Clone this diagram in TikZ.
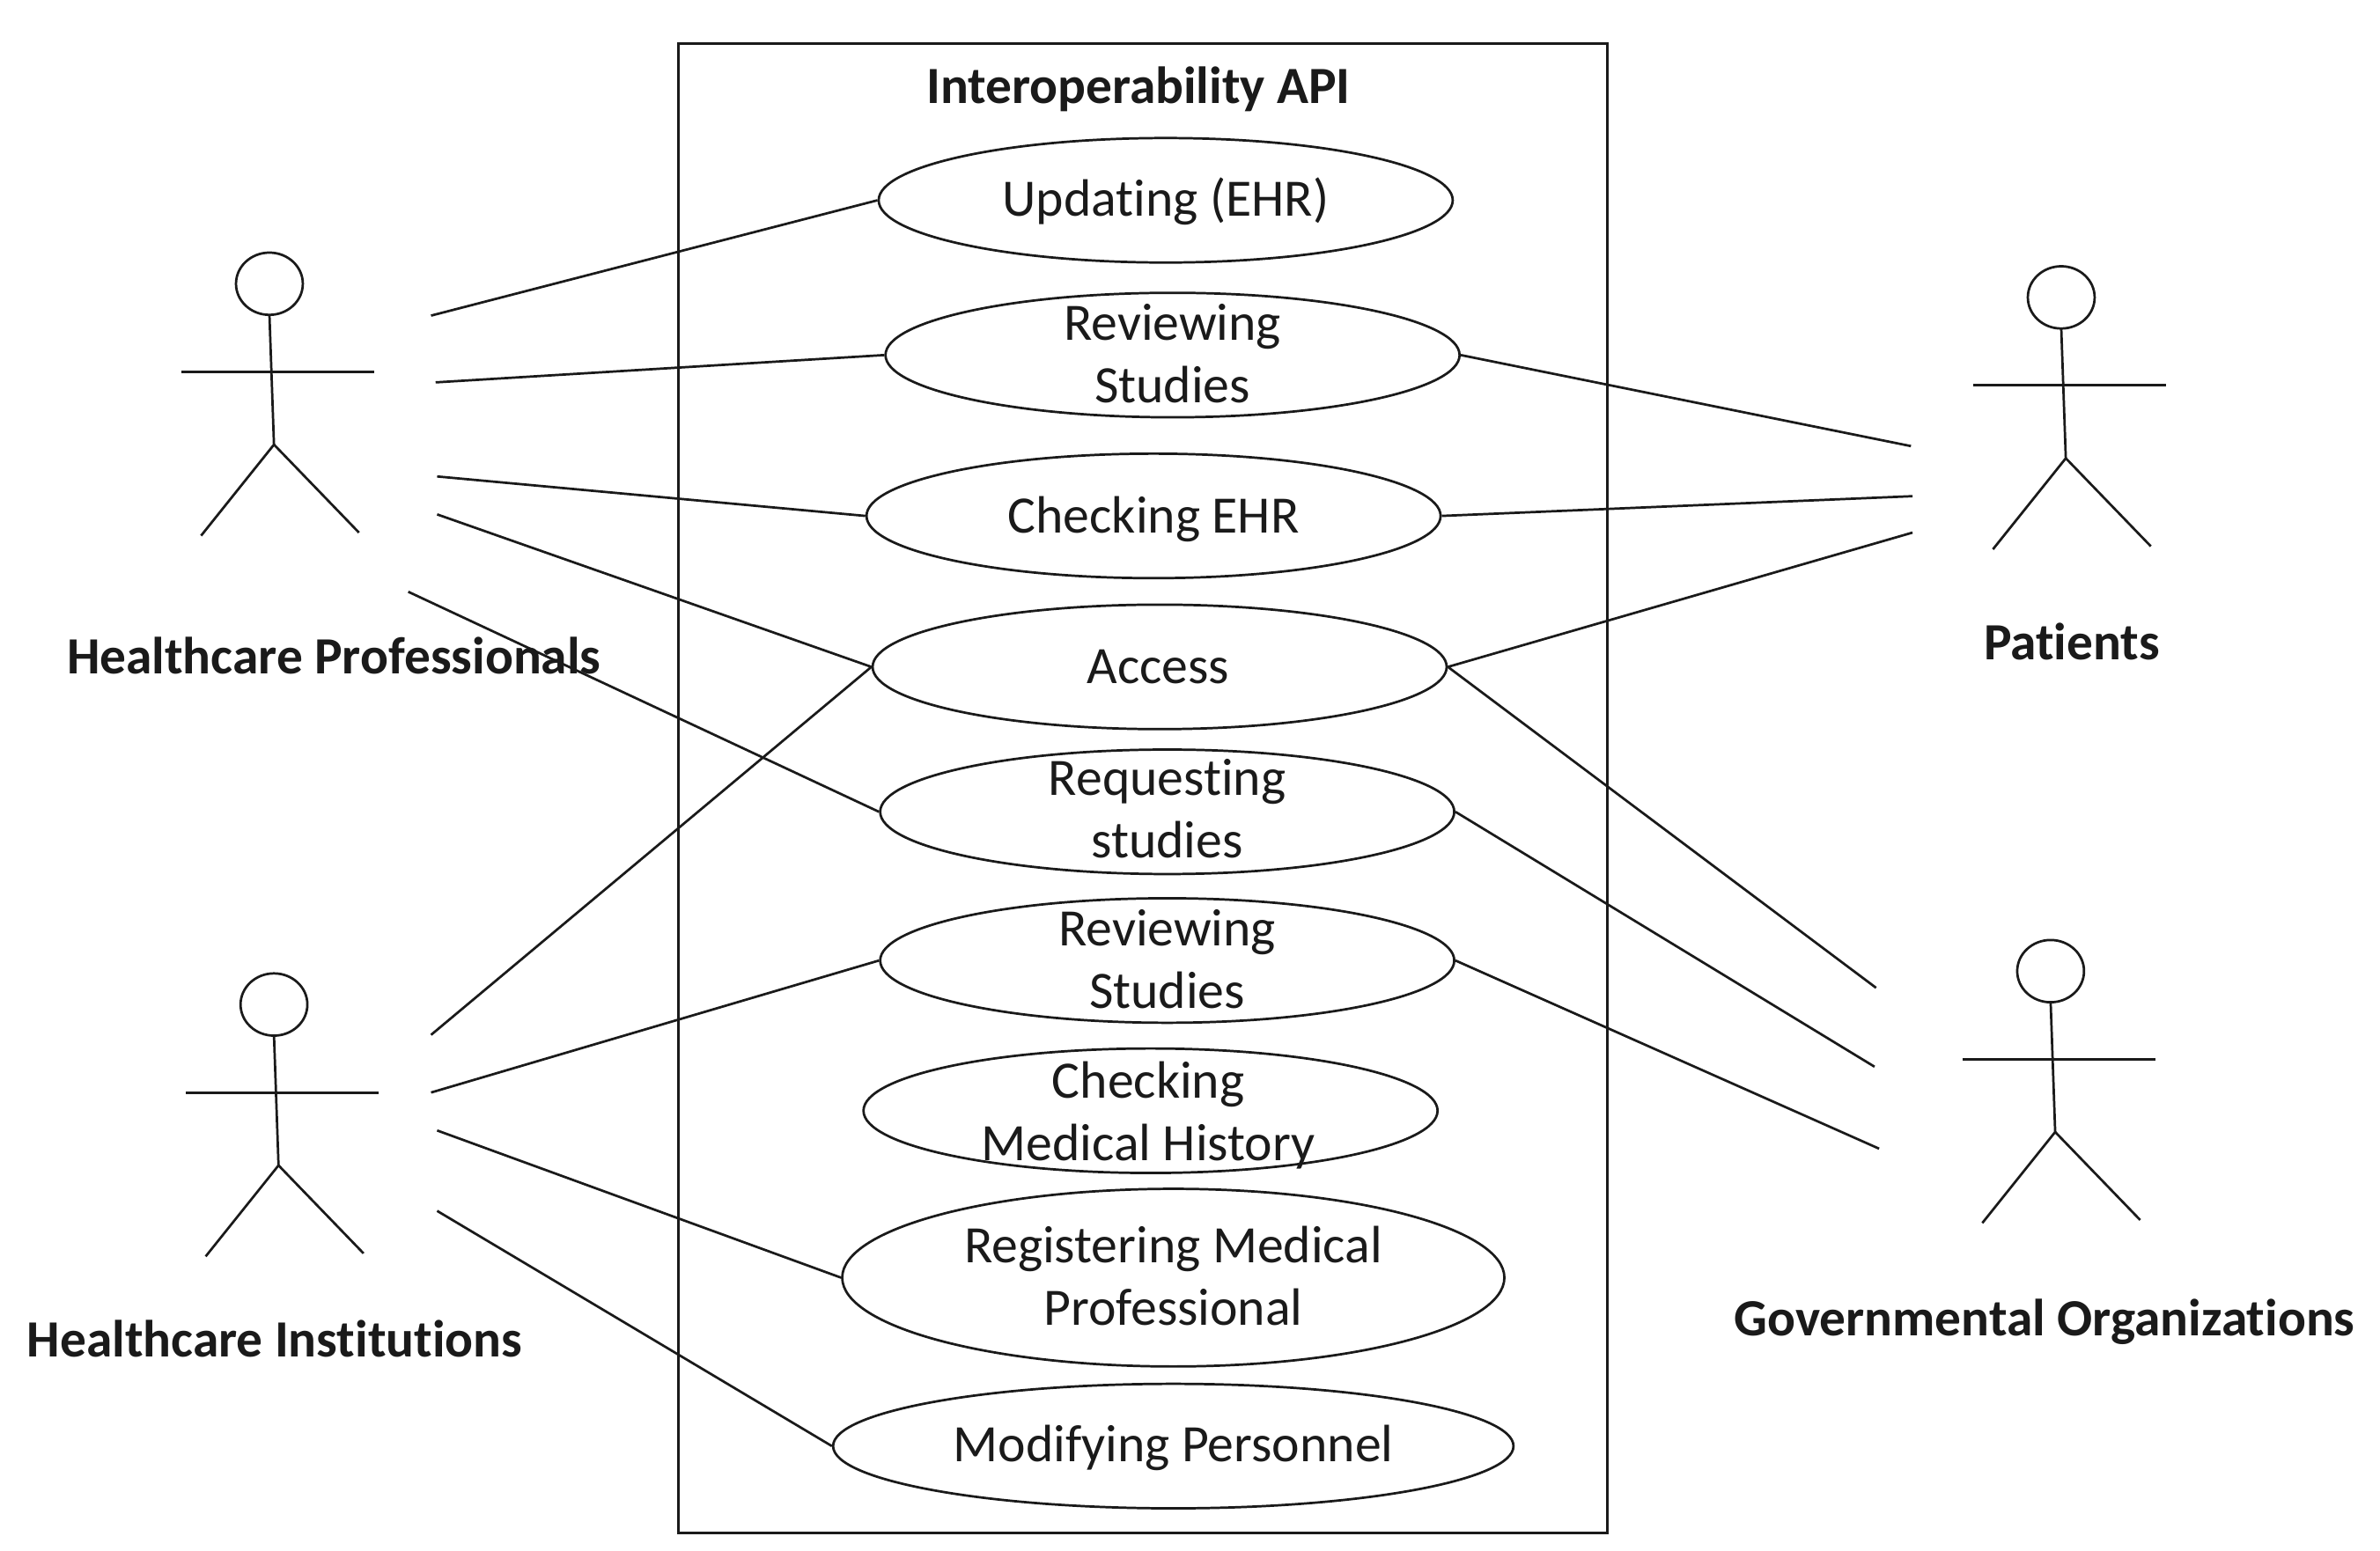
\documentclass[tikz,border=0pt]{standalone}
\usepackage{fontspec}
\setmainfont{Carlito}[Ligatures=NoCommon]
\usepackage{xcolor}
\usetikzlibrary{positioning,calc,shapes.geometric}
\definecolor{ink}{HTML}{1A1A1A}
\tikzset{
  usecase/.style={ellipse,draw=ink,fill=white,line width=.45pt,inner sep=0pt,
    minimum width=3.78cm,minimum height=.82cm},
  casetext/.style={align=center,text=ink,inner sep=0pt,font=\fontsize{9.85}{11.7}\selectfont},
  assoc/.style={draw=ink,line width=.45pt},
  rolename/.style={font=\fontsize{9.8}{11.5}\selectfont\bfseries,text=ink,inner sep=0pt},
  actorhead/.style={ellipse,draw=ink,line width=.45pt,minimum width=.44cm,minimum height=.41cm,inner sep=0pt},
  pics/actor/.style={code={
    \draw[assoc] (0,20)--(3,106) -- (-45,166);
    \draw[assoc] (3,106)--(59,164);
    \draw[assoc] (-58,58)--(69,58);
  }},
}
\begin{document}
\begin{tikzpicture}[x=.01cm,y=-.01cm]
  \useasboundingbox (0,0) rectangle (1568,1022);
  \node[draw=ink,line width=.5pt,minimum width=6.12cm,minimum height=9.81cm,inner sep=0pt] (api) at (753,519.5) {};
  \node[rolename] (apititle) at (750,59) {Interoperability API};
  % use cases
  \node[usecase,label={[casetext,yshift=-.01cm]center:{Updating (EHR)}}] (updating) at (768,132) {};
  \node[usecase,label={[casetext,yshift=.01cm]center:{Reviewing\\Studies}}] (reviewa) at (772.5,234) {};
  \node[usecase,label={[casetext,yshift=-.02cm]center:{Checking EHR}}] (checkehr) at (760,340) {};
  \node[usecase,label={[casetext,xshift=-.01cm]center:{Access}}] (access) at (764,439.5) {};
  \node[usecase,label={[casetext,yshift=.02cm]center:{Requesting\\studies}}] (request) at (769,535) {};
  \node[usecase,label={[casetext,yshift=.01cm]center:{Reviewing\\Studies}}] (reviewb) at (769,633) {};
  \node[usecase,label={[casetext,xshift=-.015cm,yshift=-.03cm]center:{Checking\\Medical History}}] (history) at (758,732) {};
  \node[usecase,minimum width=4.36cm,minimum height=1.17cm,label={[casetext,yshift=.01cm]center:{Registering Medical\\Professional}}] (register) at (773,842) {};
  \node[usecase,minimum width=4.48cm,label={[casetext,yshift=-.01cm]center:{Modifying Personnel}}] (modify) at (773,953) {};
  % actors
  \node[actorhead] (prof) at (177.5,187) {};
  \pic at (prof.center) {actor};
  \node[actorhead] (inst) at (180.5,662) {};
  \pic at (inst.center) {actor};
  \node[actorhead] (patient) at (1358,196) {};
  \pic at (patient.center) {actor};
  \node[actorhead] (gov) at (1351,640) {};
  \pic at (gov.center) {actor};
  \node[rolename] (profname) at (220,432) {Healthcare Professionals};
  \node[rolename] (instname) at (181,882) {Healthcare Institutions};
  \node[rolename] (patientname) at (1365,423) {Patients};
  \node[rolename] (govname) at (1347,871) {Governmental Organizations};
  % free ends
  \coordinate (p1) at (284,208);
  \coordinate (p2) at (287,252);
  \coordinate (p3) at (288,314);
  \coordinate (p4) at (288,339);
  \coordinate (p5) at (269,390);
  \coordinate (i1) at (284,682);
  \coordinate (i2) at (284,720);
  \coordinate (i3) at (288,745);
  \coordinate (i4) at (288,798);
  \coordinate (r1) at (1259,294);
  \coordinate (r2) at (1260,327);
  \coordinate (r3) at (1260,351);
  \coordinate (g1) at (1236,651);
  \coordinate (g2) at (1235,703);
  \coordinate (g3) at (1238,757);
  \draw[assoc] (p1)--(updating.west); \draw[assoc] (p2)--(reviewa.west); \draw[assoc] (p3)--(checkehr.west);
  \draw[assoc] (p4)--(access.west); \draw[assoc] (p5)--(request.west);
  \draw[assoc] (i1)--(access.west); \draw[assoc] (i2)--(reviewb.west); \draw[assoc] (i3)--(register.west);
  \draw[assoc] (i4)--(modify.west);
  \draw[assoc] (reviewa.east)--(r1); \draw[assoc] (checkehr.east)--(r2); \draw[assoc] (access.east)--(r3);
  \draw[assoc] (access.east)--(g1); \draw[assoc] (request.east)--(g2); \draw[assoc] (reviewb.east)--(g3);
\end{tikzpicture}
\end{document}
